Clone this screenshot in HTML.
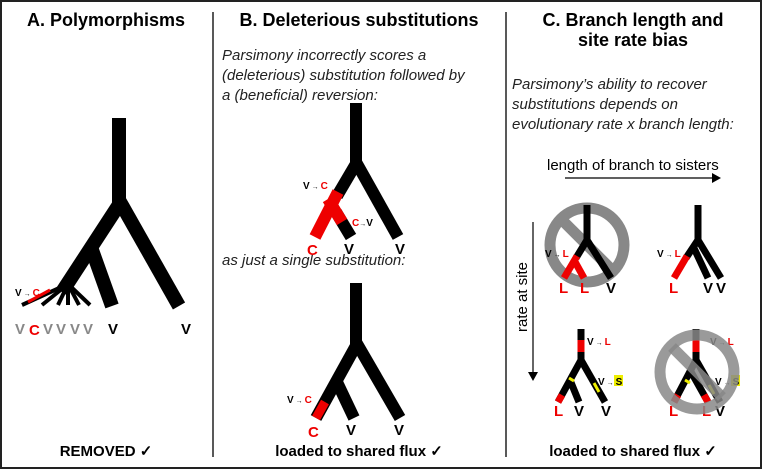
<!DOCTYPE html>
<html><head><meta charset="utf-8"><style>
body{margin:0;background:#fff}
svg{display:block}
text{font-family:"Liberation Sans",sans-serif}
.t{font-weight:bold;font-size:18px;text-anchor:middle}
.i{font-style:italic;font-size:15px;fill:#222}
.lb{font-weight:bold;font-size:15px}
.sm{font-weight:bold;font-size:10px}
</style></head><body>
<svg width="763" height="470" viewBox="0 0 763 470" xmlns="http://www.w3.org/2000/svg">
<rect x="1" y="1" width="760" height="467" fill="none" stroke="#222" stroke-width="2"/>
<line x1="213" y1="12" x2="213" y2="457" stroke="#222" stroke-width="1.5"/>
<line x1="506" y1="12" x2="506" y2="457" stroke="#222" stroke-width="1.5"/>
<text class="t" x="106" y="26">A. Polymorphisms</text>
<text class="t" x="359" y="26">B. Deleterious substitutions</text>
<text class="t" x="633" y="26">C. Branch length and</text>
<text class="t" x="633" y="46">site rate bias</text>
<text class="i" x="222" y="60">Parsimony incorrectly scores a</text>
<text class="i" x="222" y="80">(deleterious) substitution followed by</text>
<text class="i" x="222" y="100">a (beneficial) reversion:</text>
<text class="i" x="222" y="265">as just a single substitution:</text>
<text class="i" x="512" y="89">Parsimony’s ability to recover</text>
<text class="i" x="512" y="109">substitutions depends on</text>
<text class="i" x="512" y="129">evolutionary rate x branch length:</text>
<text x="547" y="170" font-size="15">length of branch to sisters</text>
<line x1="565" y1="178" x2="712" y2="178" stroke="#000" stroke-width="1.2"/>
<polygon points="712,173 721,178 712,183"/>
<line x1="533" y1="222" x2="533" y2="372" stroke="#000" stroke-width="1.2"/>
<polygon points="528,372 533,381 538,372"/>
<text x="0" y="0" font-size="15" text-anchor="middle" transform="translate(527,297) rotate(-90)">rate at site</text>

<!-- Panel A -->
<g stroke="#000" stroke-width="14" fill="none">
<line x1="119" y1="118" x2="119" y2="206"/>
<line x1="119" y1="200" x2="179" y2="306"/>
<line x1="122" y1="200" x2="62" y2="292"/>
<line x1="92" y1="250" x2="112" y2="306"/>
</g>
<g stroke="#000" stroke-width="4" fill="none">
<line x1="68" y1="284" x2="22" y2="305"/>
<line x1="68" y1="284" x2="42" y2="305"/>
<line x1="68" y1="284" x2="58" y2="305"/>
<line x1="68" y1="284" x2="68" y2="305"/>
<line x1="68" y1="284" x2="79" y2="305"/>
<line x1="68" y1="284" x2="90" y2="305"/>
</g>
<line x1="50" y1="290" x2="28" y2="302" stroke="#e00" stroke-width="3"/>
<text class="sm" x="15" y="296">V<tspan font-size="7"> → </tspan><tspan fill="#e00">C</tspan></text>
<g class="lb" fill="#888"><text x="15" y="334">V</text><text x="43" y="334">V</text><text x="56" y="334">V</text><text x="70" y="334">V</text><text x="83" y="334">V</text></g>
<text class="lb" x="29" y="335" fill="#e00" font-size="17">C</text>
<text class="lb" x="108" y="334">V</text><text class="lb" x="181" y="334">V</text>

<!-- Panel B top -->
<g stroke="#000" stroke-width="12" fill="none">
<line x1="356" y1="103" x2="356" y2="168"/>
<line x1="356" y1="162" x2="398" y2="237"/>
<line x1="357" y1="162" x2="337" y2="196"/>
<line x1="336" y1="212" x2="351" y2="237"/>
</g>
<g stroke="#e00" stroke-width="12" fill="none">
<line x1="338" y1="192" x2="315" y2="237"/>
<line x1="328" y1="199" x2="342" y2="222"/>
</g>
<text class="sm" x="303" y="189">V<tspan font-size="7"> → </tspan><tspan fill="#e00">C</tspan></text>
<text class="sm" x="352" y="226"><tspan fill="#e00">C</tspan><tspan font-size="7">→</tspan>V</text>
<text class="lb" x="307" y="255" fill="#e00" font-size="17">C</text>
<text class="lb" x="344" y="254">V</text><text class="lb" x="395" y="254">V</text>

<!-- Panel B bottom -->
<g stroke="#000" stroke-width="12" fill="none">
<line x1="356" y1="283" x2="356" y2="348"/>
<line x1="356" y1="342" x2="400" y2="418"/>
<line x1="358" y1="342" x2="316" y2="418"/>
<line x1="336" y1="380" x2="354" y2="418"/>
</g>
<line x1="325" y1="402" x2="316" y2="418" stroke="#e00" stroke-width="9"/>
<text class="sm" x="287" y="403">V<tspan font-size="7"> → </tspan><tspan fill="#e00">C</tspan></text>
<text class="lb" x="308" y="437" fill="#e00" font-size="17">C</text>
<text class="lb" x="346" y="435">V</text><text class="lb" x="394" y="435">V</text>

<!-- C tree 1 -->
<circle cx="587" cy="245" r="37" fill="none" stroke="#888" stroke-width="11"/>
<line x1="562" y1="220" x2="612" y2="270" stroke="#888" stroke-width="11"/>
<g stroke="#000" stroke-width="7" fill="none">
<line x1="587" y1="205" x2="587" y2="243"/>
<line x1="587" y1="240" x2="611" y2="278"/>
<line x1="587" y1="240" x2="576" y2="258"/>
</g>
<g stroke="#e00" stroke-width="7" fill="none">
<line x1="577" y1="256" x2="564" y2="278"/><line x1="574" y1="260" x2="584" y2="278"/>
</g>
<text class="sm" x="545" y="257">V<tspan font-size="7"> → </tspan><tspan fill="#e00">L</tspan></text>
<g class="lb" font-size="13"><text x="559" y="293" fill="#e00">L</text><text x="580" y="293" fill="#e00">L</text><text x="606" y="293">V</text></g>
<!-- C tree 2 -->
<g stroke="#000" stroke-width="7" fill="none">
<line x1="698" y1="205" x2="698" y2="243"/>
<line x1="698" y1="240" x2="721" y2="278"/>
<line x1="693" y1="246" x2="708" y2="278"/>
<line x1="698" y1="240" x2="686" y2="258"/>
</g>
<line x1="687" y1="256" x2="674" y2="278" stroke="#e00" stroke-width="7"/>
<text class="sm" x="657" y="257">V<tspan font-size="7"> → </tspan><tspan fill="#e00">L</tspan></text>
<g class="lb" font-size="13"><text x="669" y="293" fill="#e00">L</text><text x="703" y="293">V</text><text x="716" y="293">V</text></g>
<!-- C tree 3 -->
<g stroke="#000" stroke-width="7" fill="none">
<line x1="581" y1="329" x2="581" y2="364"/>
<line x1="581" y1="360" x2="605" y2="402"/>
<line x1="581" y1="360" x2="558" y2="402"/>
<line x1="570" y1="380" x2="579" y2="402"/>
</g>
<line x1="581" y1="340" x2="581" y2="352" stroke="#e00" stroke-width="7"/>
<line x1="562" y1="395" x2="558" y2="402" stroke="#e00" stroke-width="7"/>
<line x1="569" y1="378" x2="574" y2="381" stroke="#ee0" stroke-width="3"/>
<line x1="594" y1="383" x2="599" y2="392" stroke="#ee0" stroke-width="3"/>
<text class="sm" x="587" y="345">V<tspan font-size="7"> → </tspan><tspan fill="#e00">L</tspan></text>
<rect x="614" y="375" width="9" height="11" fill="#ee0"/>
<text class="sm" x="598" y="385">V<tspan font-size="7"> → </tspan>S</text>
<g class="lb" font-size="13"><text x="554" y="416" fill="#e00">L</text><text x="574" y="416">V</text><text x="601" y="416">V</text></g>
<!-- C tree 4 -->
<g stroke="#000" stroke-width="7" fill="none">
<line x1="696" y1="329" x2="696" y2="364"/>
<line x1="696" y1="360" x2="720" y2="402"/>
<line x1="696" y1="360" x2="674" y2="402"/>
<line x1="690" y1="370" x2="708" y2="402"/>
</g>
<line x1="696" y1="340" x2="696" y2="352" stroke="#e00" stroke-width="7"/>
<line x1="678" y1="395" x2="674" y2="402" stroke="#e00" stroke-width="7"/>
<line x1="704" y1="395" x2="708" y2="402" stroke="#e00" stroke-width="7"/>
<line x1="685" y1="380" x2="690" y2="383" stroke="#ee0" stroke-width="3"/>
<line x1="709" y1="385" x2="714" y2="394" stroke="#ee0" stroke-width="3"/>
<text class="sm" x="710" y="345">V<tspan font-size="7"> → </tspan><tspan fill="#e00">L</tspan></text>
<rect x="731" y="375" width="9" height="11" fill="#ee0"/>
<text class="sm" x="715" y="385">V<tspan font-size="7"> → </tspan>S</text>
<g class="lb" font-size="13"><text x="669" y="416" fill="#e00">L</text><text x="702" y="416" fill="#e00">L</text><text x="715" y="416">V</text></g>
<circle cx="697" cy="372" r="37" fill="none" stroke="#888" stroke-width="11" opacity="0.85"/>
<line x1="672" y1="347" x2="722" y2="397" stroke="#888" stroke-width="11" opacity="0.85"/>

<text class="lb" x="106" y="456" text-anchor="middle" font-size="18">REMOVED ✓</text>
<text class="lb" x="359" y="456" text-anchor="middle" font-size="18">loaded to shared flux ✓</text>
<text class="lb" x="633" y="456" text-anchor="middle" font-size="18">loaded to shared flux ✓</text>
</svg>
</body></html>
